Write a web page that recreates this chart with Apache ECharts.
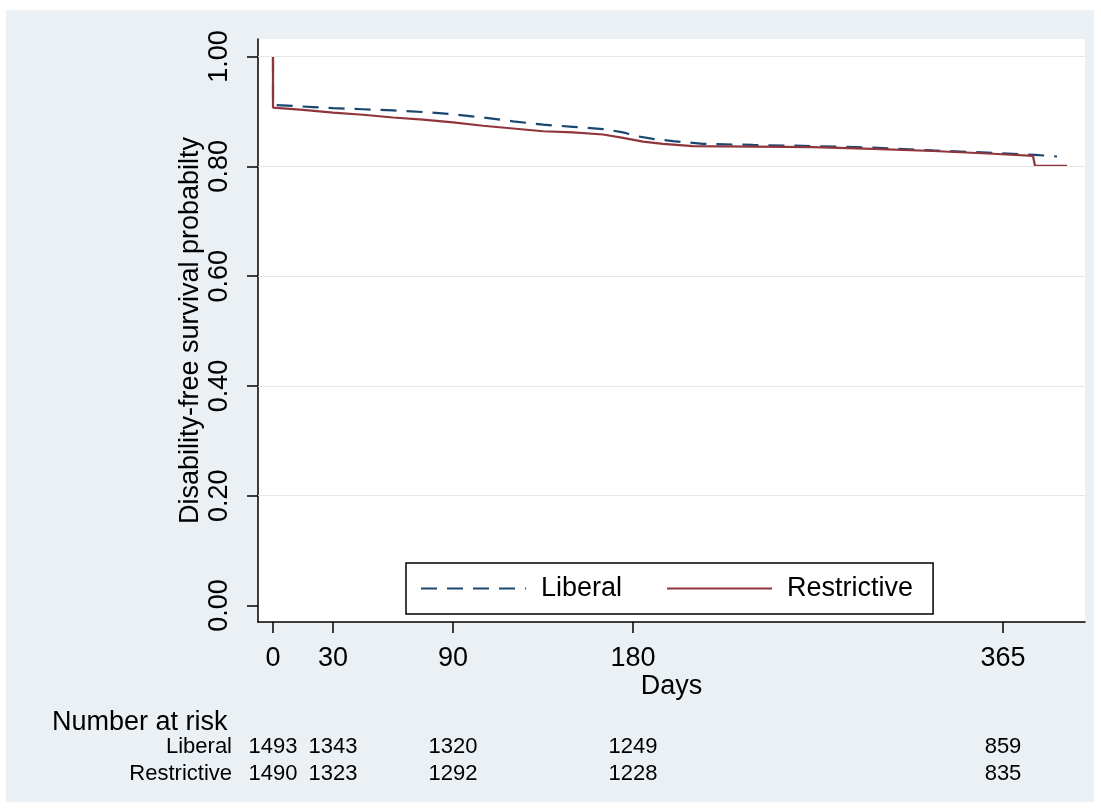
<!DOCTYPE html>
<html>
<head>
<meta charset="utf-8">
<script src="https://cdn.jsdelivr.net/npm/echarts@6/dist/echarts.min.js"></script>
<style>
html,body{margin:0;padding:0;background:#ffffff;}
#chart{width:1101px;height:811px;}
</style>
</head>
<body>
<div id="chart"></div>
<script>
// ---- data ----
const liberalDays   = [0, 0, 10, 20, 30, 45, 60, 75, 90, 105, 120, 135, 150, 165, 175, 182, 190, 200, 215, 240, 270, 300, 330, 350, 370, 381, 392];
const liberalSurv   = [1.000, 0.912, 0.910, 0.908, 0.906, 0.904, 0.902, 0.899, 0.895, 0.889, 0.882, 0.876, 0.872, 0.868, 0.862, 0.855, 0.850, 0.846, 0.841, 0.839, 0.837, 0.834, 0.829, 0.826, 0.823, 0.821, 0.818];
const restrictDays  = [0, 0, 15, 30, 45, 60, 75, 90, 105, 120, 135, 150, 165, 175, 185, 195, 210, 240, 270, 300, 330, 360, 380, 381, 397];
const restrictSurv  = [1.000, 0.907, 0.903, 0.898, 0.894, 0.889, 0.885, 0.880, 0.874, 0.869, 0.864, 0.862, 0.858, 0.852, 0.845, 0.841, 0.837, 0.836, 0.835, 0.832, 0.828, 0.823, 0.819, 0.801, 0.801];
const xTicks = [0, 30, 90, 180, 365];
const yTicks = [0, 0.2, 0.4, 0.6, 0.8, 1.0];
const yGridLines = [0.2, 0.4, 0.6, 0.8, 1.0];
const riskDays = [0, 30, 90, 180, 365];
const riskLiberal = [1493, 1343, 1320, 1249, 859];
const riskRestrictive = [1490, 1323, 1292, 1228, 835];
const groups = ['Liberal', 'Restrictive'];

const FONT = 'Liberation Sans, Arial, sans-serif';
const libPts = liberalDays.map((d, i) => [d, liberalSurv[i]]);
const resPts = restrictDays.map((d, i) => [d, restrictSurv[i]]);
const riskPts = [];
riskDays.forEach((d, i) => {
  riskPts.push([d, 'Liberal', riskLiberal[i]]);
  riskPts.push([d, 'Restrictive', riskRestrictive[i]]);
});

const chart = echarts.init(document.getElementById('chart'), null, {renderer: 'canvas'});
const option = {
  animation: false,
  textStyle: {fontFamily: FONT, color: '#000'},
  graphic: [{
    type: 'rect', z: -10, silent: true,
    shape: {x: 6, y: 10, width: 1088, height: 792},
    style: {fill: '#eaf0f3'}
  }],
  title: {
    text: 'Number at risk', left: 47, top: 704,
    textStyle: {fontFamily: FONT, fontSize: 27, fontWeight: 'normal', color: '#000'}
  },
  legend: {
    data: groups,
    left: 406, top: 563,
    orient: 'horizontal',
    backgroundColor: '#fff',
    borderColor: '#000', borderWidth: 1.5,
    padding: [12, 20, 12, 14],
    itemWidth: 105, itemHeight: 20, itemGap: 44,
    itemStyle: {opacity: 0},
    textStyle: {fontFamily: FONT, fontSize: 27, color: '#000', padding: [0, 0, 0, 10]}
  },
  grid: [
    {left: 258, right: 16, top: 39, bottom: 189, show: true, backgroundColor: '#fff', borderWidth: 0},
    {left: 258, right: 16, top: 733.5, height: 54, show: false}
  ],
  xAxis: [{
    type: 'value', gridIndex: 0, min: -7.5, max: 406,
    name: 'Days', nameLocation: 'middle', nameGap: 51, nameMoveOverlap: false,
    nameTextStyle: {fontFamily: FONT, fontSize: 27, color: '#000'},
    axisLine: {show: true, onZero: false, lineStyle: {color: '#000', width: 1.5}},
    axisTick: {show: true, length: 11, lineStyle: {color: '#000', width: 1.5}, customValues: xTicks},
    axisLabel: {fontFamily: FONT, fontSize: 27, color: '#000', margin: 23, customValues: xTicks},
    splitLine: {show: false}
  }, {
    type: 'value', gridIndex: 1, min: -7.5, max: 406, show: false
  }],
  yAxis: [{
    type: 'value', gridIndex: 0, min: -0.030, max: 1.032,
    name: 'Disability-free survival probabilty', nameLocation: 'middle', nameGap: 54, nameRotate: 90,
    nameMoveOverlap: false,
    nameTextStyle: {fontFamily: FONT, fontSize: 27, color: '#000'},
    axisLine: {show: true, onZero: false, lineStyle: {color: '#000', width: 1.5}},
    axisTick: {show: true, length: 11, lineStyle: {color: '#000', width: 1.5}, customValues: yTicks},
    axisLabel: {fontFamily: FONT, fontSize: 27, color: '#000', margin: 25, rotate: 90,
      customValues: yTicks, formatter: v => v.toFixed(2)},
    splitLine: {show: false}
  }, {
    type: 'category', gridIndex: 1, data: ['Restrictive', 'Liberal'],
    axisLine: {show: false}, axisTick: {show: false}, splitLine: {show: false},
    axisLabel: {fontFamily: FONT, fontSize: 22, color: '#000', margin: 26, interval: 0}
  }],
  series: [
    {
      name: 'grid', type: 'line', xAxisIndex: 0, yAxisIndex: 0, data: [], z: 1, silent: true,
      markLine: {
        silent: true, symbol: ['none', 'none'], label: {show: false},
        lineStyle: {color: '#e6e6e6', type: 'solid', width: 1.2},
        data: yGridLines.map(v => ({yAxis: v}))
      }
    },
    {
      name: 'Liberal', type: 'line', xAxisIndex: 0, yAxisIndex: 0, data: libPts,
      symbol: 'none', z: 3,
      itemStyle: {color: '#1a476f'},
      lineStyle: {color: '#1a476f', width: 2.2, type: [16, 10]}
    },
    {
      name: 'Restrictive', type: 'line', xAxisIndex: 0, yAxisIndex: 0, data: resPts,
      symbol: 'none', z: 4,
      itemStyle: {color: '#90353b'},
      lineStyle: {color: '#90353b', width: 2.2, type: 'solid'}
    },
    {
      name: 'risk', type: 'scatter', xAxisIndex: 1, yAxisIndex: 1, data: riskPts,
      symbolSize: 1, itemStyle: {color: 'rgba(0,0,0,0)'}, silent: true,
      encode: {x: 0, y: 1},
      label: {show: true, position: 'inside', fontFamily: FONT, fontSize: 22, color: '#000',
        opacity: 1, textBorderWidth: 0, formatter: p => String(p.value[2])}
    }
  ]
};
chart.setOption(option);
</script>
</body>
</html>
